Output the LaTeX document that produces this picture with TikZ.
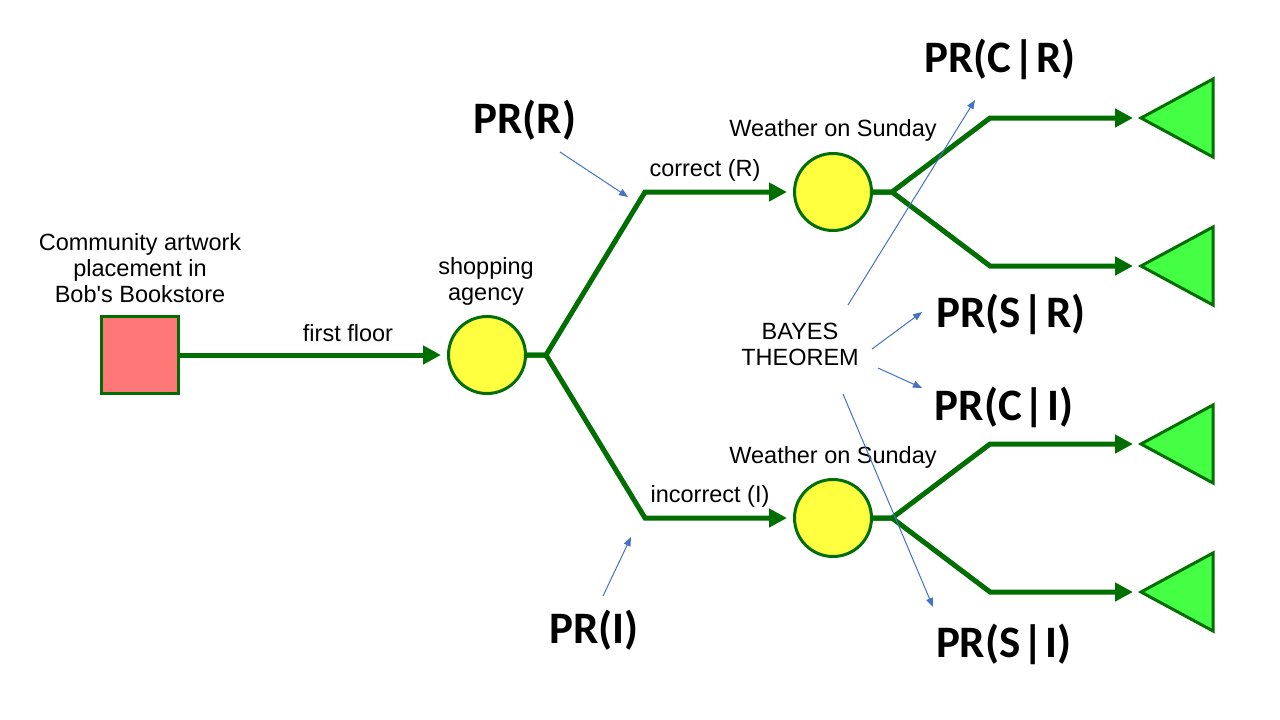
\documentclass[tikz,border=0pt]{standalone}
\usepackage{fontspec}
\setmainfont{Liberation Sans}
\newfontfamily\prfont{Carlito}
\usetikzlibrary{arrows.meta,shapes.geometric}
\definecolor{treegreen}{RGB}{0,110,0}
\definecolor{chanceyellow}{RGB}{255,255,64}
\definecolor{decisionred}{RGB}{255,119,119}
\definecolor{leafgreen}{RGB}{68,255,68}
\definecolor{noteblue}{RGB}{68,114,196}
\newcommand\given{\kern2pt|\kern2pt}
\tikzset{
  decision/.style={draw=treegreen,line width=3pt,fill=decisionred,minimum size=77pt,inner sep=0pt},
  chance/.style={circle,draw=treegreen,line width=3pt,fill=chanceyellow,minimum size=77pt,inner sep=0pt},
  leaf/.style={isosceles triangle,isosceles triangle stretches,shape border rotate=180,draw=treegreen,line width=3pt,fill=leafgreen,minimum width=78pt,minimum height=72pt,inner sep=0pt,outer sep=0pt,anchor=apex},
  flow/.style={draw=treegreen,line width=5pt,-{Triangle[length=18pt,width=18pt]}},
  hint/.style={draw=noteblue,line width=1pt,-{Triangle[length=9pt,width=7pt]}},
  note/.style={font=\fontsize{23.5}{26}\selectfont,align=center,inner sep=0pt},
  prob/.style={font=\prfont\bfseries\fontsize{45}{45}\selectfont,inner sep=0pt,anchor=base}
}
\begin{document}
\begin{tikzpicture}[x=1pt,y=-1pt]
\useasboundingbox (0,0) rectangle (1280,720);
% nodes of the tree:
\node[decision] (store) at (140,355) {};
\node[chance] (agency) at (487,355) {};
\node[chance] (wR) at (833,192) {};
\node[chance] (wI) at (833,518) {};
\node[leaf] (RC) at (1141,118) {};
\node[leaf] (RS) at (1141,266) {};
\node[leaf] (IC) at (1141,444) {};
\node[leaf] (IS) at (1141,592) {};
% branches:
\coordinate (kA) at (546,355);
\coordinate (kR) at (892,192);
\coordinate (kI) at (892,518);
\draw[flow,shorten >=6pt] (store) -- (agency);
\draw[flow,shorten >=6pt] (agency) -- (kA) -- (645,192) -- (wR);
\draw[flow,shorten >=6pt] (agency) -- (kA) -- (645,518) -- (wI);
\draw[flow,shorten >=8pt] (wR) -- (kR) -- (990,118) -- (RC.apex);
\draw[flow,shorten >=8pt] (wR) -- (kR) -- (990,266) -- (RS.apex);
\draw[flow,shorten >=8pt] (wI) -- (kI) -- (990,444) -- (IC.apex);
\draw[flow,shorten >=8pt] (wI) -- (kI) -- (990,592) -- (IS.apex);
% texts:
\node[note] (storetext) at (140,268) {Community artwork\\placement in\\Bob\textquotesingle s Bookstore};
\node[note] (agencytext) at (486,281) {shopping\\agency};
\node[note] (floor) at (348,333) {first floor};
\node[note] (correct) at (705,170) {correct (R)};
\node[note] (incorrect) at (710,496) {incorrect (I)};
\node[note] (weatherR) at (833,130) {Weather on Sunday};
\node[note] (weatherI) at (833,457) {Weather on Sunday};
\node[note] (bayes) at (800,344) {BAYES\\THEOREM};
% probabilities:
\node[prob] (prR) at (525,133) {PR(R)};
\node[prob] (prI) at (594,643) {PR(I)};
\node[prob] (prCR) at (1000,72) {PR(C\given R)};
\node[prob] (prSR) at (1011,327) {PR(S\given R)};
\node[prob] (prCI) at (1004,420) {PR(C\given I)};
\node[prob] (prSI) at (1004,657) {PR(S\given I)};
% pointers:
\coordinate (tR) at (560,152);   \coordinate (hR) at (628,197);
\coordinate (tI) at (603,596);   \coordinate (hI) at (631,537);
\coordinate (tCR) at (848,305);  \coordinate (hCR) at (975,100);
\coordinate (tSR) at (872,349);  \coordinate (hSR) at (922,312);
\coordinate (tCI) at (878,368);  \coordinate (hCI) at (922,388);
\coordinate (tSI) at (843,394);  \coordinate (hSI) at (933,607);
\draw[hint] (tR) -- (hR);
\draw[hint] (tI) -- (hI);
\draw[hint] (tCR) -- (hCR);
\draw[hint] (tSR) -- (hSR);
\draw[hint] (tCI) -- (hCI);
\draw[hint] (tSI) -- (hSI);
\end{tikzpicture}
\end{document}
